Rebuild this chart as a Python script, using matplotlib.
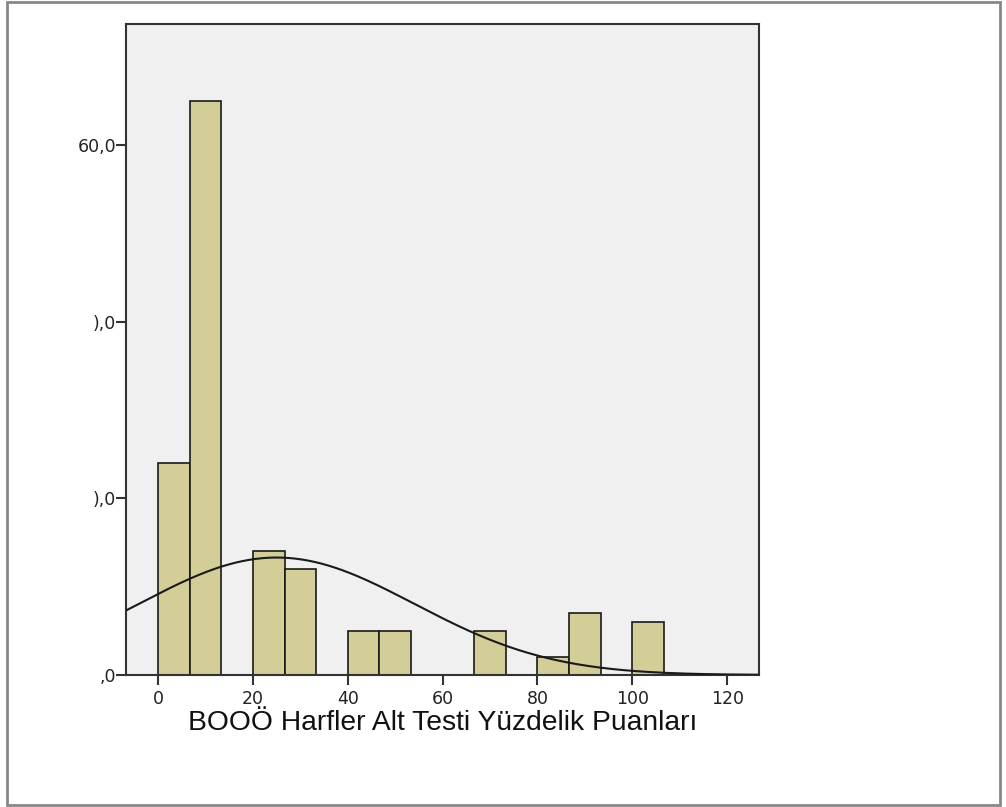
import matplotlib
matplotlib.use('Agg')
import matplotlib.pyplot as plt
import numpy as np
from matplotlib.patches import Rectangle

# histogram bins (width 100/15) and counts
bin_width = 100 / 15
bin_starts = np.array([0, 1, 3, 4, 6, 7, 10, 12, 13, 15]) * bin_width
counts = [24, 65, 14, 12, 5, 5, 5, 2, 7, 6]

# fitted normal curve parameters
fit_mean = 25.0
fit_sd = 29.0

x_ticks = [0, 20, 40, 60, 80, 100, 120]
y_ticks = [0, 20, 40, 60]
y_labels = [',0', '),0', '),0', '60,0']
x_title = 'BOOÖ Harfler Alt Testi Yüzdelik Puanları'

plt.rcParams['font.family'] = ['DejaVu Sans']

fig = plt.figure(figsize=(10.06, 8.07), dpi=100)
ax = fig.add_axes([126 / 1006, 1 - 675 / 807, (759 - 126) / 1006, (675 - 24) / 807])
ax.set_facecolor('#F0F0F0')

ax.bar(bin_starts, counts, width=bin_width, align='edge',
       color='#D3CE97', edgecolor='#1a1a1a', linewidth=1.2, zorder=2)

n = sum(counts)
xs = np.linspace(-10, 130, 400)
ys = n * bin_width * np.exp(-0.5 * ((xs - fit_mean) / fit_sd) ** 2) / (fit_sd * np.sqrt(2 * np.pi))
ax.plot(xs, ys, color='#1a1a1a', linewidth=1.5, zorder=3)

ax.set_xlim(-6.75, 126.7)
ax.set_ylim(0, 73.7)
ax.set_xticks(x_ticks)
ax.set_yticks(y_ticks)
ax.set_yticklabels(y_labels)
ax.tick_params(axis='both', length=7, width=1.5, color='#333333',
               labelsize=12.5, labelcolor='#222222')
ax.tick_params(axis='x', pad=3.5)
ax.tick_params(axis='y', pad=0)
for s in ax.spines.values():
    s.set_color('#333333')
    s.set_linewidth(1.5)

fig.text(443 / 1006, 1 - 723 / 807, x_title, ha='center', va='center',
         fontsize=20.3, family='Liberation Sans', color='#111111')

# outer frame
fig.patches.append(Rectangle((7 / 1006, 1 - 805 / 807), 993 / 1006, 803 / 807,
                             transform=fig.transFigure, fill=False,
                             edgecolor='#888888', linewidth=2))

fig.savefig('out.png', dpi=100)
